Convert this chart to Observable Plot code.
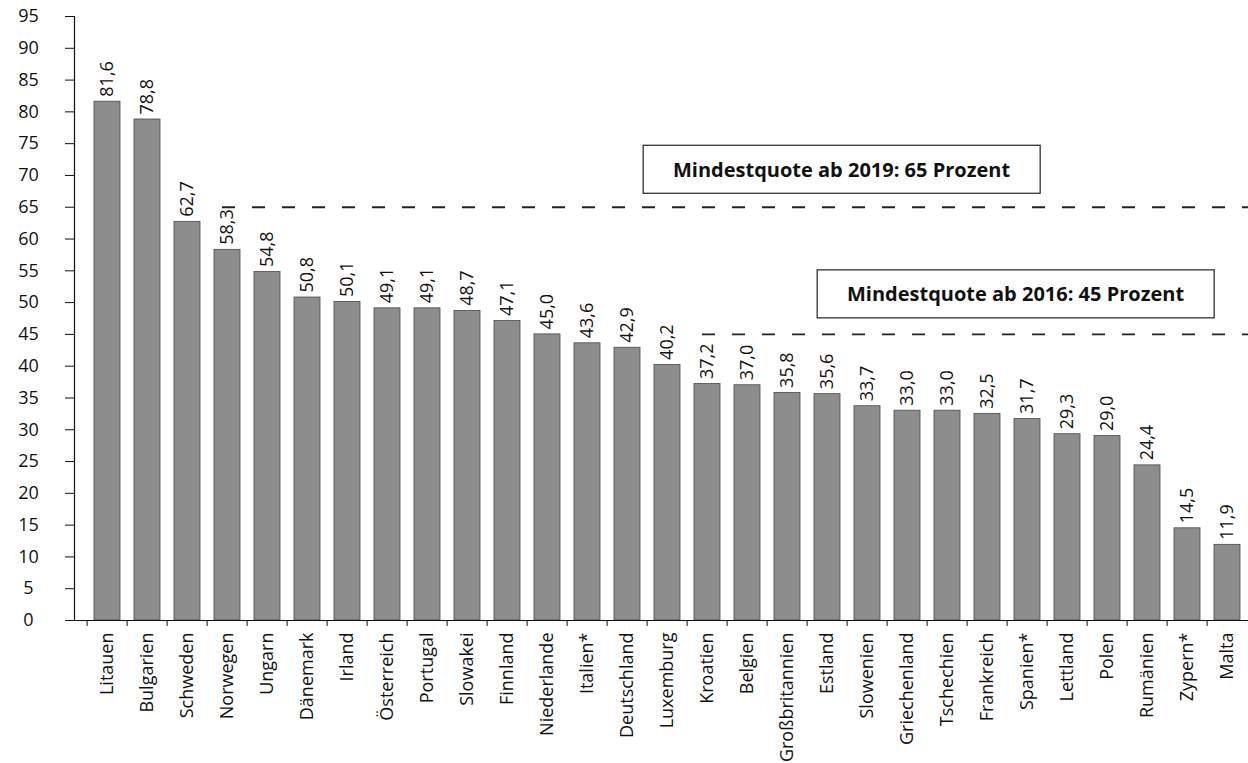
<!DOCTYPE html>
<html>
<head>
<meta charset="utf-8">
<script src="https://cdn.jsdelivr.net/npm/d3@7"></script>
<script src="https://cdn.jsdelivr.net/npm/@observablehq/plot@0.6"></script>
<style>
  html, body { margin: 0; padding: 0; background: #fff; overflow: hidden; }
  #chart svg { display: block; }
</style>
</head>
<body>
<div id="chart"></div>
<script>
// ---- Data ----
const countries = ["Litauen", "Bulgarien", "Schweden", "Norwegen", "Ungarn", "Dänemark", "Irland",
  "Österreich", "Portugal", "Slowakei", "Finnland", "Niederlande", "Italien*", "Deutschland",
  "Luxemburg", "Kroatien", "Belgien", "Großbritannien", "Estland", "Slowenien", "Griechenland",
  "Tschechien", "Frankreich", "Spanien*", "Lettland", "Polen", "Rumänien", "Zypern*", "Malta"];
const values = [81.6, 78.8, 62.7, 58.3, 54.8, 50.8, 50.1, 49.1, 49.1, 48.7, 47.1, 45.0, 43.6, 42.9,
  40.2, 37.2, 37.0, 35.8, 35.6, 33.7, 33.0, 33.0, 32.5, 31.7, 29.3, 29.0, 24.4, 14.5, 11.9];
const yTickValues = [0, 5, 10, 15, 20, 25, 30, 35, 40, 45, 50, 55, 60, 65, 70, 75, 80, 85, 90, 95];
const thresholdValues = [65, 45];
const thresholdStart = ["Norwegen", "Kroatien"];
const thresholdEnd = ["Malta", "Malta"];
const thresholdLabels = ["Mindestquote ab 2019: 65 Prozent", "Mindestquote ab 2016: 45 Prozent"];

const data = countries.map((c, i) => ({country: c, value: values[i]}));
const rules = thresholdValues.map((v, i) => ({y: v, x1: thresholdStart[i], x2: thresholdEnd[i]}));
const fmt = v => v.toFixed(1).replace(".", ",");

const ink = "#111";
const chart = Plot.plot({
  width: 1248,
  height: 763,
  marginLeft: 74,
  marginRight: 0,
  marginTop: 16,
  marginBottom: 143,
  style: {fontFamily: "'Open Sans', sans-serif", fontSize: "18px", color: ink, background: "#fff", overflow: "hidden"},
  x: {domain: countries, range: [74.6, 1258], paddingInner: 0.36, paddingOuter: 0.18, label: null},
  y: {domain: [0, 95], label: null},
  marks: [
    Plot.barY(data, {x: "country", y: "value", fill: "#8d8d8d", stroke: "#4a4a4a", strokeWidth: 0.8}),
    Plot.text(data, {x: "country", y: "value", text: d => fmt(d.value), rotate: -90,
      textAnchor: "start", dy: -5, fontSize: 18, fill: ink}),
    Plot.ruleY(rules, {y: "y", x1: "x1", x2: "x2", dx: 8, stroke: "#222", strokeWidth: 1.8, strokeDasharray: "13,17"}),
    Plot.text([thresholdLabels[0]], {x: () => "Estland", y: () => 70.8, text: d => d, dx: 14,
      fontWeight: "bold", fontSize: 20, fill: ink}),
    Plot.text([thresholdLabels[1]], {x: () => "Spanien*", y: () => 51.2, text: d => d, dx: -12,
      fontWeight: "bold", fontSize: 20, fill: ink}),
    Plot.frame({anchor: "left", stroke: ink, strokeWidth: 1.2}),
    Plot.ruleY([0], {stroke: ink, strokeWidth: 1.2, insetLeft: -9}),
    Plot.axisY({ticks: yTickValues, tickSize: 9, tickPadding: 37, textAnchor: "middle", fontSize: 18,
      stroke: ink, fill: ink, label: null}),
    Plot.axisX({tickSize: 0, tickPadding: 12, tickRotate: -90, fontSize: 18, fill: ink, label: null}),
    Plot.axisX({tickSize: 6, tickFormat: () => "", dx: -20.4, stroke: ink, label: null})
  ]
});
document.getElementById("chart").appendChild(chart);

// boxes around the threshold annotations
const labelSet = new Set(thresholdLabels);
chart.querySelectorAll("text").forEach(t => {
  if (!labelSet.has(t.textContent)) return;
  const bb = t.getBBox();
  const cx = bb.x + bb.width / 2, cy = bb.y + bb.height / 2;
  const w = 397, h = 48;
  const r = document.createElementNS("http://www.w3.org/2000/svg", "rect");
  r.setAttribute("x", cx - w / 2);
  r.setAttribute("y", cy - h / 2);
  r.setAttribute("width", w);
  r.setAttribute("height", h);
  r.setAttribute("fill", "#fff");
  r.setAttribute("stroke", "#222");
  r.setAttribute("stroke-width", 1.2);
  const tr = t.getAttribute("transform");
  if (tr) r.setAttribute("transform", tr);
  t.parentNode.insertBefore(r, t);
});
</script>
</body>
</html>
